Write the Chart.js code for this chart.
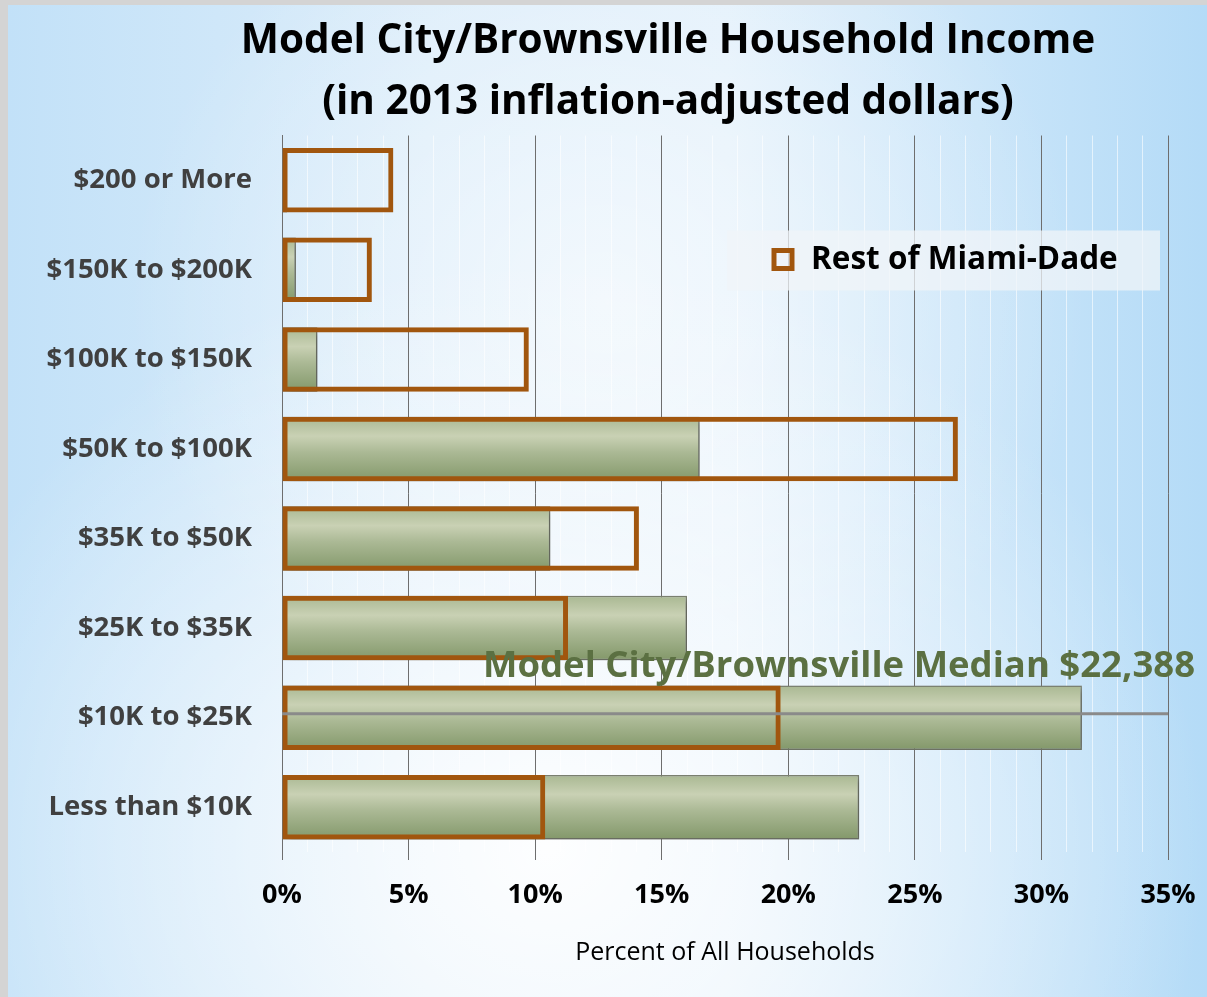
<!DOCTYPE html>
<html>
<head>
<meta charset="utf-8">
<script src="https://cdn.jsdelivr.net/npm/chart.js@4.4.1/dist/chart.umd.min.js"></script>
<style>
  html, body { margin: 0; padding: 0; background: #d4d4d4; }
  #wrap { position: relative; width: 1207px; height: 997px; overflow: hidden; }
  .slide {
    position: absolute; left: 8px; top: 5px; right: 0; bottom: 0;
    background:
      radial-gradient(ellipse 55% 60% at 45% 85%, rgba(255,255,255,0.95) 0%, rgba(255,255,255,0) 100%),
      radial-gradient(ellipse 40% 45% at 50% 30%, rgba(255,255,255,0.6) 0%, rgba(255,255,255,0) 100%),
      linear-gradient(90deg, #c2e1f8 0%, #dcedfa 35%, #e2f0fb 60%, #b4dbf7 100%);
  }
  canvas { position: absolute; left: 0; top: 0; }
</style>
</head>
<body>
<div id="wrap">
  <div class="slide"></div>
  <canvas id="myChart" width="1207" height="997"></canvas>
</div>
<script>
// data (percent of all households)
const categories = ['$200 or More', '$150K to $200K', '$100K to $150K', '$50K to $100K',
                    '$35K to $50K', '$25K to $35K', '$10K to $25K', 'Less than $10K'];
const modelCity = [0.2, 0.55, 1.4, 16.5, 10.6, 16.0, 31.6, 22.8];
const restOfMiamiDade = [4.4, 3.55, 9.75, 26.7, 14.1, 11.3, 19.7, 10.4];
const medianCategory = '$10K to $25K';
const medianLabel = 'Model City/Brownsville Median $22,388';

const FONT = '"Open Sans", Calibri, sans-serif';
const ORANGE = '#a1560e';
const BAR_PCT = 0.72;

function green_fill(context) {
    const chart = context.chart;
    const y = chart.scales.y;
    if (!y || context.dataIndex === undefined) return '#a5b58a';
    const mid = y.getPixelForValue(context.dataIndex);
    const half = (y.getPixelForValue(1) - y.getPixelForValue(0)) * BAR_PCT / 2;
    if (!isFinite(mid) || !isFinite(half) || half <= 0) return '#a5b58a';
    const g = chart.ctx.createLinearGradient(0, mid - half, 0, mid + half);
    g.addColorStop(0, '#a9b892');
    g.addColorStop(0.3, '#c9d1b4');
    g.addColorStop(0.55, '#abb995');
    g.addColorStop(1, '#83986a');
    return g;
}

// the slide title is centred a bit left of the plot, not over the whole canvas
const titleShiftPlugin = {
    id: 'titleShift',
    afterLayout(chart) {
        const t = chart.titleBlock;
        if (!t) return;
        t.left = 168;
        t.right = 1168;
        t.width = 1000;
    }
};

// gray shadow behind the green bars
const shadowPlugin = {
    id: 'shadow',
    beforeDatasetDraw(chart, args) {
        if (args.index !== 1) return;
        const ctx = chart.ctx;
        ctx.save();
        ctx.shadowColor = 'rgba(60,60,60,0.45)';
        ctx.shadowBlur = 7;
        ctx.shadowOffsetX = 6;
        ctx.shadowOffsetY = 3;
    },
    afterDatasetDraw(chart, args) {
        if (args.index !== 1) return;
        chart.ctx.restore();
    }
};

// median line + label across the $10K to $25K bar
const medianPlugin = {
    id: 'median',
    afterDatasetsDraw(chart) {
        const {ctx, scales: {x, y}} = chart;
        const yPix = y.getPixelForValue(categories.indexOf(medianCategory)) - 4;
        ctx.save();
        ctx.strokeStyle = '#8a8a8a';
        ctx.lineWidth = 3;
        ctx.beginPath();
        ctx.moveTo(x.getPixelForValue(0), yPix);
        ctx.lineTo(x.getPixelForValue(35), yPix);
        ctx.stroke();
        ctx.font = 'bold 36.5px ' + FONT;
        ctx.fillStyle = '#5b7042';
        ctx.textAlign = 'right';
        ctx.textBaseline = 'middle';
        ctx.fillText(medianLabel, chart.chartArea.right + 27, yPix - 47);
        ctx.restore();
    }
};

// legend box inside the plot
const legendBoxPlugin = {
    id: 'legendBox',
    afterDraw(chart) {
        const ctx = chart.ctx;
        const ds = chart.data.datasets[0];
        const left = chart.chartArea.left + 445, top = chart.chartArea.top + 95;
        ctx.save();
        ctx.fillStyle = 'rgba(240,244,248,0.75)';
        ctx.fillRect(left, top, 433, 60);
        ctx.strokeStyle = ds.borderColor;
        ctx.lineWidth = 5;
        ctx.strokeRect(left + 47, top + 20, 18, 18);
        ctx.font = 'bold 31.5px ' + FONT;
        ctx.fillStyle = '#000';
        ctx.textBaseline = 'middle';
        ctx.fillText(ds.label, left + 84, top + 30);
        ctx.restore();
    }
};

function draw_chart() {
    const ctx = document.getElementById('myChart').getContext('2d');

    const data = {
        labels: categories,
        datasets: [{
            label: 'Rest of Miami-Dade',
            data: restOfMiamiDade,
            backgroundColor: 'rgba(0,0,0,0)',
            borderColor: ORANGE,
            borderWidth: 5,
            borderSkipped: false,
            order: 0,
        }, {
            label: 'Model City/Brownsville',
            data: modelCity,
            backgroundColor: green_fill,
            borderColor: '#7f8573',
            borderWidth: 1.5,
            borderSkipped: false,
            order: 1,
        }]
    };

    const config = {
        type: 'bar',
        data: data,
        plugins: [titleShiftPlugin, shadowPlugin, medianPlugin, legendBoxPlugin],
        options: {
            indexAxis: 'y',
            responsive: false,
            animation: false,
            datasets: {
                bar: { grouped: false, categoryPercentage: 1, barPercentage: BAR_PCT }
            },
            layout: { padding: { left: 0, right: 39, top: 0, bottom: 29 } },
            plugins: {
                legend: { display: false },
                tooltip: { enabled: false },
                title: {
                    display: true,
                    text: ['Model City/Brownsville Household Income', '(in 2013 inflation-adjusted dollars)'],
                    color: '#000',
                    font: { family: FONT, size: 40.5, weight: 'bold', lineHeight: 1.5 },
                    padding: { top: 11, bottom: 3 }
                }
            },
            scales: {
                x: {
                    min: 0,
                    max: 35,
                    afterFit: s => { s.height = 116; s.paddingRight = 0; s.paddingLeft = 0; },
                    ticks: {
                        stepSize: 1,
                        autoSkip: false,
                        maxRotation: 0,
                        padding: 19,
                        color: '#000',
                        font: { family: FONT, size: 27, weight: 'bold' },
                        callback: v => (v % 5 === 0 ? v + '%' : '')
                    },
                    grid: {
                        color: c => (c.tick && c.tick.value % 5 === 0 ? '#6e6e6e' : 'rgba(255,255,255,0.6)'),
                        lineWidth: 1,
                        tickLength: 8,
                        tickColor: c => (c.tick && c.tick.value % 5 === 0 ? '#6e6e6e' : 'rgba(255,255,255,0)')
                    },
                    border: { display: false },
                    title: {
                        display: true,
                        text: 'Percent of All Households',
                        color: '#000',
                        font: { family: FONT, size: 25 },
                        padding: 0
                    }
                },
                y: {
                    afterFit: s => { s.width = 282; },
                    ticks: {
                        padding: 30,
                        color: '#404040',
                        font: { family: FONT, size: 27.5, weight: 'bold' }
                    },
                    grid: { display: false, drawTicks: false },
                    border: { display: true, color: '#6e6e6e', width: 1 }
                }
            }
        }
    };
    new Chart(ctx, config);
}

draw_chart();
</script>
</body>
</html>
